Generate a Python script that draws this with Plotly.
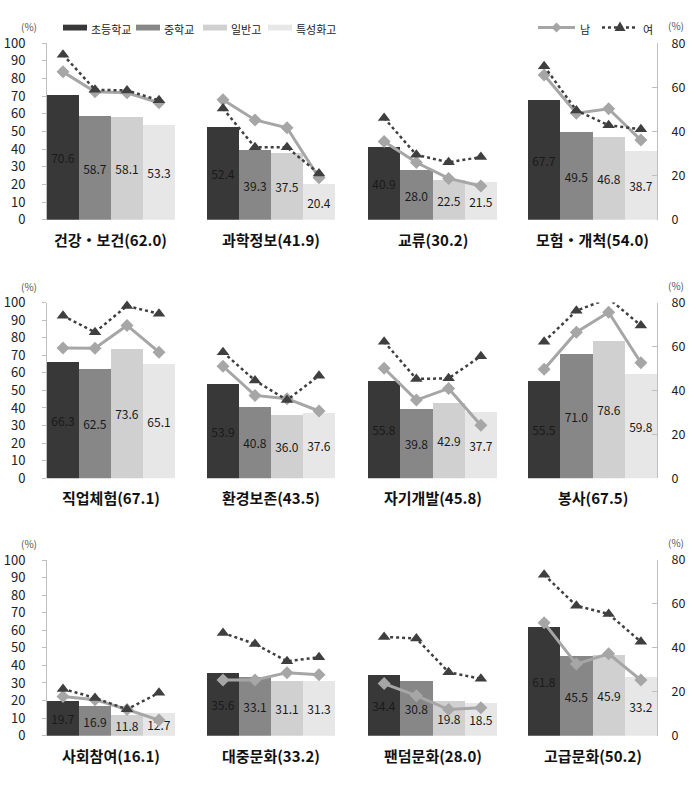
import plotly.graph_objects as go

W, H = 693, 809

categories = ["건강・보건", "과학정보", "교류", "모험・개척",
              "직업체험", "환경보존", "자기개발", "봉사",
              "사회참여", "대중문화", "팬덤문화", "고급문화"]
overall = [62.0, 41.9, 30.2, 54.0, 67.1, 43.5, 45.8, 67.5, 16.1, 33.2, 28.0, 50.2]

school_types = ["초등학교", "중학교", "일반고", "특성화고"]
elementary = [70.6, 52.4, 40.9, 67.7, 66.3, 53.9, 55.8, 55.5, 19.7, 35.6, 34.4, 61.8]
middle = [58.7, 39.3, 28.0, 49.5, 62.5, 40.8, 39.8, 71.0, 16.9, 33.1, 30.8, 45.5]
general = [58.1, 37.5, 22.5, 46.8, 73.6, 36.0, 42.9, 78.6, 11.8, 31.1, 19.8, 45.9]
special = [53.3, 20.4, 21.5, 38.7, 65.1, 37.6, 37.7, 59.8, 12.7, 31.3, 18.5, 33.2]

genders = ["남", "여"]
male = [
    [67.0, 58.0, 57.5, 53.0],
    [54.4, 45.2, 41.7, 19.0],
    [35.4, 25.9, 18.7, 15.3],
    [65.6, 48.3, 50.3, 36.1],
    [59.3, 59.2, 69.6, 57.4],
    [51.0, 37.7, 36.2, 30.6],
    [50.1, 35.6, 40.9, 24.1],
    [49.6, 66.5, 75.6, 52.6],
    [17.8, 16.4, 11.9, 7.1],
    [25.4, 25.4, 28.7, 27.7],
    [23.7, 18.2, 11.9, 12.7],
    [51.4, 32.6, 37.3, 25.3],
]
female = [
    [74.8, 58.9, 58.6, 54.1],
    [50.4, 32.8, 32.8, 20.9],
    [46.1, 29.4, 26.0, 28.4],
    [69.6, 49.5, 42.8, 41.0],
    [74.0, 66.5, 78.5, 74.9],
    [57.4, 44.5, 35.6, 46.7],
    [62.2, 45.2, 45.5, 55.6],
    [62.2, 76.3, 81.9, 69.6],
    [21.3, 17.2, 12.0, 19.5],
    [46.8, 41.8, 33.9, 35.7],
    [45.0, 44.3, 28.9, 25.9],
    [73.3, 59.2, 55.4, 42.8],
]

bar_colors = ["#383838", "#878787", "#d0d0d0", "#e7e7e7"]
male_color = "#a6a6a6"
female_color = "#3f3f3f"
FONT = "Noto Sans CJK KR, sans-serif"

col_px = [(47, 175), (207, 335), (368, 497), (528, 657)]
row_px = [(33, 214), (299, 479), (563, 743)]

school_series = [elementary, middle, general, special]

fig = go.Figure()
layout_axes = {}
annotations = []
shapes = []


def px_x(p):
    return p / W


def px_y(p):
    return 1 - p / H


for k in range(12):
    r, c = divmod(k, 4)
    xi = k + 1
    xname = "x" if xi == 1 else f"x{xi}"
    xkey = "xaxis" if xi == 1 else f"xaxis{xi}"
    yb = 2 * k + 1
    yl = 2 * k + 2
    ybname = "y" if yb == 1 else f"y{yb}"
    ybkey = "yaxis" if yb == 1 else f"yaxis{yb}"
    ylname = f"y{yl}"
    ylkey = f"yaxis{yl}"

    for s, name in enumerate(school_types):
        v = school_series[s][k]
        fig.add_trace(go.Bar(
            x=[name], y=[v], name=name, marker_color=bar_colors[s],
            marker_line_width=0,
            text=[f"{v:.1f}"], textposition="inside", insidetextanchor="middle",
            constraintext="none", textfont=dict(size=12, color="#1a1a1a", family=FONT),
            xaxis=xname, yaxis=ybname, showlegend=False, hoverinfo="skip",
        ))

    fig.add_trace(go.Scatter(
        x=school_types, y=male[k], name=genders[0], mode="lines+markers",
        line=dict(color=male_color, width=3),
        marker=dict(symbol="diamond", size=10, color=male_color),
        xaxis=xname, yaxis=ylname, showlegend=False, cliponaxis=False, hoverinfo="skip",
    ))
    fig.add_trace(go.Scatter(
        x=school_types, y=female[k], name=genders[1], mode="lines+markers",
        line=dict(color=female_color, width=2.5, dash="dot"),
        marker=dict(symbol="triangle-up", size=11, color=female_color),
        xaxis=xname, yaxis=ylname, showlegend=False, cliponaxis=False, hoverinfo="skip",
    ))

    x0, x1 = col_px[c]
    y0, y1 = row_px[r]
    layout_axes[xkey] = dict(domain=[px_x(x0), px_x(x1)], anchor=ybname,
                             range=[-0.5, 3.5], visible=False)
    layout_axes[ybkey] = dict(
        domain=[px_y(y1), px_y(y0)], anchor=xname, range=[0, 100],
        visible=(c == 0), showgrid=False, zeroline=False, showline=True,
        linecolor="#bfbfbf", linewidth=1, ticks="outside", ticklen=4,
        tickcolor="#bfbfbf", dtick=10, tickfont=dict(size=13, color="#222", family=FONT),
        ticklabelstandoff=14,
    )
    layout_axes[ylkey] = dict(
        overlaying=ybname, anchor=xname, side="right", range=[0, 80],
        visible=(c == 3), showgrid=False, zeroline=False, showline=True,
        linecolor="#bfbfbf", linewidth=1, ticks="inside", ticklen=5,
        tickcolor="#bfbfbf", dtick=20, tickfont=dict(size=12.5, color="#222", family=FONT),
        ticklabelstandoff=11,
    )

    annotations.append(dict(
        x=px_x((x0 + x1) / 2), y=px_y(y1 + 20), xref="paper", yref="paper",
        text=f"<b>{categories[k]}({overall[k]:.1f})</b>", showarrow=False,
        font=dict(size=15, color="#111", family=FONT), xanchor="center", yanchor="middle",
    ))

for r in range(3):
    y0 = row_px[r][0]
    annotations.append(dict(x=px_x(29), y=px_y(y0 - 17), xref="paper", yref="paper",
                            text="(%)", showarrow=False, xanchor="center", yanchor="middle",
                            font=dict(size=10, color="#555", family=FONT)))
    annotations.append(dict(x=px_x(676), y=px_y(y0 - 18), xref="paper", yref="paper",
                            text="(%)", showarrow=False, xanchor="center", yanchor="middle",
                            font=dict(size=10, color="#555", family=FONT)))

# legend for school types (key rectangles + labels)
legend_y = 17
legend_box_left = [63, 136, 203, 268]
for s, name in enumerate(school_types):
    bx = legend_box_left[s]
    shapes.append(dict(type="rect", xref="paper", yref="paper",
                       x0=px_x(bx), x1=px_x(bx + 24), y0=px_y(legend_y + 3), y1=px_y(legend_y - 3),
                       fillcolor=bar_colors[s], line_width=0))
    annotations.append(dict(x=px_x(bx + 26), y=px_y(legend_y + 1), xref="paper", yref="paper",
                            text=name, showarrow=False, xanchor="left", yanchor="middle",
                            font=dict(size=11, color="#222", family=FONT)))

# legend for gender lines
gender_key = [(538, 575, male_color, "solid", 3, "M-5,0 L0,5 L5,0 L0,-5 Z"),
              (602, 638, female_color, "dot", 2.5, "M-5.5,-3.5 L5.5,-3.5 L0,6 Z")]
for g, (lx0, lx1, col, dash, wdt, path) in enumerate(gender_key):
    shapes.append(dict(type="line", xref="paper", yref="paper",
                       x0=px_x(lx0), x1=px_x(lx1), y0=px_y(legend_y), y1=px_y(legend_y),
                       line=dict(color=col, width=wdt, dash=dash)))
    shapes.append(dict(type="path", xref="paper", yref="paper",
                       xsizemode="pixel", ysizemode="pixel",
                       xanchor=px_x((lx0 + lx1) / 2), yanchor=px_y(legend_y),
                       path=path, fillcolor=col, line_width=0))
    annotations.append(dict(x=px_x(lx1 + 3), y=px_y(legend_y + 1), xref="paper", yref="paper",
                            text=genders[g], showarrow=False, xanchor="left", yanchor="middle",
                            font=dict(size=11, color="#222", family=FONT)))

fig.update_layout(
    width=W, height=H, margin=dict(l=0, r=0, t=0, b=0),
    paper_bgcolor="white", plot_bgcolor="white",
    barmode="overlay", bargap=0, showlegend=False,
    font=dict(family=FONT, size=12, color="#222"),
    annotations=annotations, shapes=shapes,
    **layout_axes,
)

fig.write_html("out.html", config={"displayModeBar": False},
               post_script="document.body.style.margin='0';")
